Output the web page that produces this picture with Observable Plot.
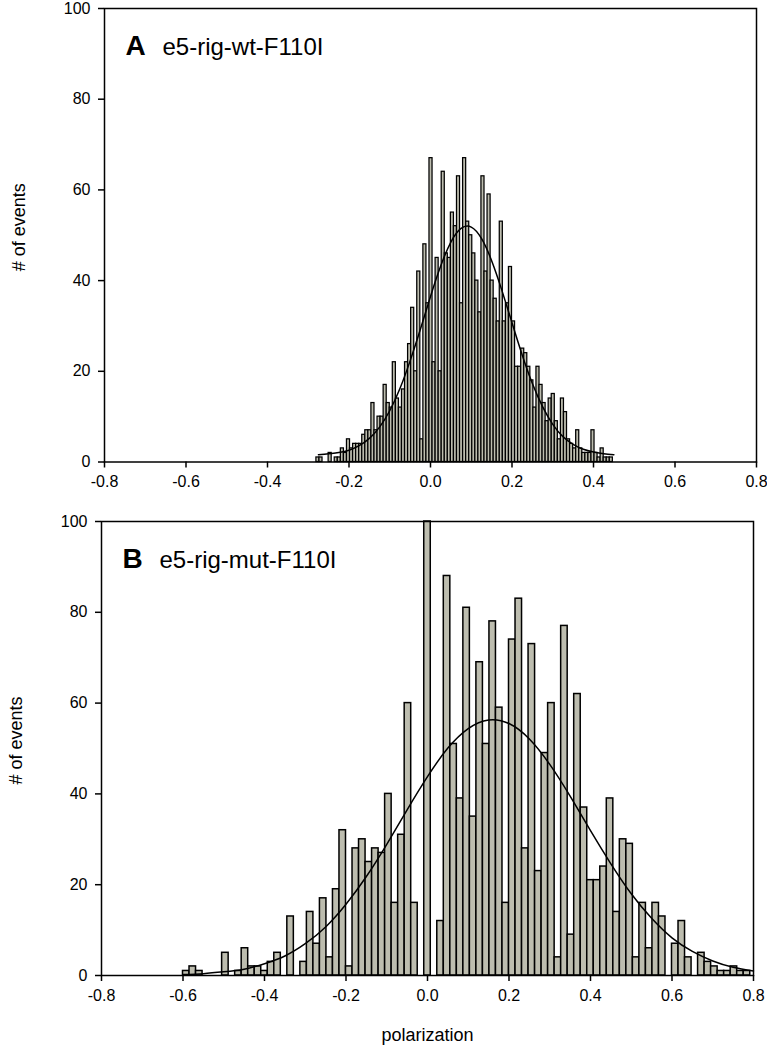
<!DOCTYPE html>
<html><head><meta charset="utf-8">
<script src="https://cdn.jsdelivr.net/npm/d3@7"></script>
<script src="https://cdn.jsdelivr.net/npm/@observablehq/plot@0.6"></script>
<style>
body{margin:0;background:#fff;}
#wrap{position:relative;width:767px;height:1050px;overflow:hidden;}
#a,#b{position:absolute;left:0;}
#a{top:0}
#b{top:500px}
</style></head><body><div id="wrap"><div id="a"></div><div id="b"></div></div>
<script>
// ---- data ----
const xTicks = [-0.8, -0.6, -0.4, -0.2, 0.0, 0.2, 0.4, 0.6, 0.8];
const yTicks = [0, 20, 40, 60, 80, 100];

const labelA = "A", nameA = "e5-rig-wt-F110I";
const labelB = "B", nameB = "e5-rig-mut-F110I";
const yTitle = "# of events";
const xTitle = "polarization";

// Panel A histogram: bins start at -0.28, width 0.0075
const binStartA = -0.28, binWidthA = 0.0075;
const countsA = [1,1,0,0,2,0,1,1,3,2,5,3,4,4,4,6,7,7,13,7,10,10,17,13,12,22,14,12,16,22,
  26,34,20,42,5,48,35,67,22,45,20,64,46,45,55,52,63,35,67,53,50,46,40,33,63,42,59,40,36,31,
  53,31,35,43,31,21,21,25,24,21,18,12,21,17,13,9,14,15,9,5,14,11,5,4,3,7,3,2,2,2,
  7,2,1,3,1,1,1];

// Panel B histogram: bins start at -0.6, width 0.016
const binStartB = -0.6, binWidthB = 0.016;
const countsB = [1,2,1,0,0,0,5,0,1,6,2,2,1,3,5,0,13,0,3,14,7,17,4,19,32,2,28,30,25,28,
  27,40,16,31,60,16,0,100,0,12,88,51,39,81,35,69,51,78,59,16,74,83,28,73,23,49,60,4,77,9,
  62,37,21,21,24,39,14,30,29,4,16,6,16,13,0,7,12,4,0,5,3,2,1,1,2,1,1];

// Fitted curves
const fitAx = [-0.275,-0.25,-0.225,-0.2,-0.175,-0.15,-0.125,-0.1,-0.075,-0.05,-0.025,0,0.025,0.05,0.075,0.1,0.125,0.15,0.175,0.2,0.225,0.25,0.275,0.3,0.325,0.35,0.375,0.4,0.425,0.45];
const fitAy = [1.6,1.8,2.1,2.6,3.6,5.2,7.7,11.3,16.2,22.3,29.2,36.5,43.2,48.5,51.5,51.8,49.3,44.4,37.9,30.7,23.6,17.3,12.2,8.3,5.6,3.9,2.8,2.2,1.8,1.6];
const fitBx = [-0.6,-0.55,-0.5,-0.45,-0.4,-0.35,-0.3,-0.25,-0.2,-0.15,-0.1,-0.05,0,0.05,0.1,0.15,0.2,0.25,0.3,0.35,0.4,0.45,0.5,0.55,0.6,0.65,0.7,0.75,0.8];
const fitBy = [0.2,0.4,0.8,1.4,2.6,4.3,7.0,10.7,15.7,21.8,28.9,36.5,43.8,50.1,54.4,56.3,55.5,52.1,46.5,39.5,31.9,24.6,18.0,12.6,8.3,5.3,3.2,1.8,1.0];

// ---- drawing ----
const FONT = "'Liberation Sans', Arial, sans-serif";
const barFill = "#bdbdaf";

function bins(start, width, counts) {
  return counts.map((c, i) => ({x1: start + i * width, x2: start + (i + 1) * width, y: c})).filter(d => d.y > 0);
}

function panel({counts, start, width, fx, fy, label, name, height, mt, mb, ml, mr, barStroke, xtitle}) {
  const fit = fx.map((x, i) => ({x, y: fy[i]}));
  const marks = [
    Plot.rectY(bins(start, width, counts), {x1: "x1", x2: "x2", y: "y", fill: barFill, stroke: "black", strokeWidth: barStroke}),
    Plot.line(fit, {x: "x", y: "y", curve: "natural", stroke: "black", strokeWidth: 1.5}),
    Plot.frame({stroke: "black", strokeWidth: 1.5}),
    Plot.axisX({ticks: xTicks, tickFormat: d => d.toFixed(1), tickSize: 6, tickPadding: 8, label: null, strokeWidth: 1.5, fontSize: 16}),
    Plot.axisY({ticks: yTicks, tickSize: 6, tickPadding: 8, label: null, strokeWidth: 1.5, fontSize: 16}),
    Plot.text([label], {frameAnchor: "top-left", dx: 21, dy: 46, lineAnchor: "bottom", textAnchor: "start", fontWeight: "bold", fontSize: 28}),
    Plot.text([name], {frameAnchor: "top-left", dx: 58, dy: 46, lineAnchor: "bottom", textAnchor: "start", fontSize: 24}),
    Plot.text([yTitle], {frameAnchor: "left", dx: -85, dy: -8, rotate: -90, textAnchor: "middle", lineAnchor: "middle", fontSize: 18})
  ];
  if (xtitle) marks.push(Plot.text([xtitle], {frameAnchor: "bottom", dy: 60, textAnchor: "middle", lineAnchor: "middle", fontSize: 18}));
  return Plot.plot({
    width: 767, height,
    marginTop: mt, marginBottom: mb, marginLeft: ml, marginRight: mr,
    x: {domain: [-0.8, 0.8]},
    y: {domain: [0, 100]},
    style: {fontFamily: FONT, fontSize: "16px", color: "black", background: "white"},
    marks
  });
}

document.getElementById("a").append(panel({
  counts: countsA, start: binStartA, width: binWidthA, fx: fitAx, fy: fitAy,
  label: labelA, name: nameA, height: 500, mt: 8, mb: 38.5, ml: 104, mr: 11, barStroke: 1.25
}));
document.getElementById("b").append(panel({
  counts: countsB, start: binStartB, width: binWidthB, fx: fitBx, fy: fitBy,
  label: labelB, name: nameB, height: 550, mt: 21, mb: 75, ml: 101, mr: 14, barStroke: 1.5, xtitle: xTitle
}));
</script></body></html>
